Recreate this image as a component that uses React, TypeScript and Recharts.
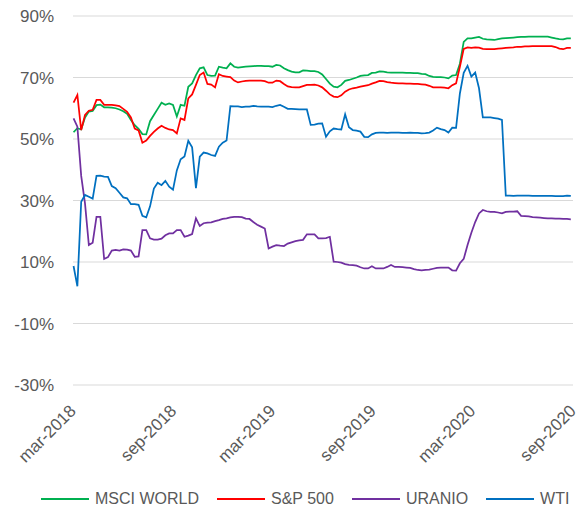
import { LineChart, Line, XAxis, YAxis, CartesianGrid, Legend } from 'recharts';

// weekly closes, returns in %
const weeks = [
  '2018-03-02', '2018-03-09', '2018-03-16', '2018-03-23', '2018-03-30',
  '2018-04-06', '2018-04-13', '2018-04-20', '2018-04-27',
  '2018-05-04', '2018-05-11', '2018-05-18', '2018-05-25',
  '2018-06-01', '2018-06-08', '2018-06-15', '2018-06-22', '2018-06-29',
  '2018-07-06', '2018-07-13', '2018-07-20', '2018-07-27',
  '2018-08-03', '2018-08-10', '2018-08-17', '2018-08-24', '2018-08-31',
  '2018-09-07', '2018-09-14', '2018-09-21', '2018-09-28',
  '2018-10-05', '2018-10-12', '2018-10-19', '2018-10-26',
  '2018-11-02', '2018-11-09', '2018-11-16', '2018-11-23', '2018-11-30',
  '2018-12-07', '2018-12-14', '2018-12-21', '2018-12-28',
  '2019-01-04', '2019-01-11', '2019-01-18', '2019-01-25',
  '2019-02-01', '2019-02-08', '2019-02-15', '2019-02-22',
  '2019-03-01', '2019-03-08', '2019-03-15', '2019-03-22', '2019-03-29',
  '2019-04-05', '2019-04-12', '2019-04-19', '2019-04-26',
  '2019-05-03', '2019-05-10', '2019-05-17', '2019-05-24', '2019-05-31',
  '2019-06-07', '2019-06-14', '2019-06-21', '2019-06-28',
  '2019-07-05', '2019-07-12', '2019-07-19', '2019-07-26',
  '2019-08-02', '2019-08-09', '2019-08-16', '2019-08-23', '2019-08-30',
  '2019-09-06', '2019-09-13', '2019-09-20', '2019-09-27',
  '2019-10-04', '2019-10-11', '2019-10-18', '2019-10-25',
  '2019-11-01', '2019-11-08', '2019-11-15', '2019-11-22', '2019-11-29',
  '2019-12-06', '2019-12-13', '2019-12-20', '2019-12-27',
  '2020-01-03', '2020-01-10', '2020-01-17', '2020-01-24', '2020-01-31',
  '2020-02-07', '2020-02-14', '2020-02-21', '2020-02-28',
  '2020-03-06', '2020-03-13', '2020-03-20', '2020-03-27',
  '2020-04-03', '2020-04-10', '2020-04-17', '2020-04-24',
  '2020-05-01', '2020-05-08', '2020-05-15', '2020-05-22', '2020-05-29',
  '2020-06-05', '2020-06-12', '2020-06-19', '2020-06-26',
  '2020-07-03', '2020-07-10', '2020-07-17', '2020-07-24', '2020-07-31',
  '2020-08-07', '2020-08-14', '2020-08-21', '2020-08-28',
];

const msciWorld = [
  52.2, 53.5, 53.1, 57.0, 58.9, 59.1, 61.0, 61.2, 60.3, 60.3,
  60.2, 60.0, 59.6, 59.0, 58.2, 56.2, 54.5, 53.3, 51.6, 51.5,
  55.8, 57.8, 59.8, 61.8, 61.1, 61.6, 61.1, 57.3, 61.1, 60.8,
  67.0, 68.1, 70.8, 73.0, 73.3, 70.8, 70.5, 70.6, 73.5, 73.2,
  73.0, 74.6, 73.5, 73.2, 73.4, 73.5, 73.6, 73.7, 73.8, 73.8,
  73.7, 73.7, 73.5, 74.1, 73.9, 73.0, 72.4, 71.9, 71.7, 71.7,
  72.3, 72.2, 72.1, 72.1, 71.8, 71.0, 69.5, 68.0, 67.0, 66.8,
  67.6, 68.9, 69.2, 69.6, 70.0, 70.5, 70.7, 70.8, 71.5, 71.6,
  72.0, 71.9, 71.7, 71.6, 71.6, 71.6, 71.6, 71.5, 71.5, 71.4,
  71.4, 71.2, 71.1, 70.5, 70.2, 70.1, 70.1, 70.0, 69.7, 70.6,
  70.8, 74.5, 81.6, 82.7, 82.7, 83.0, 83.2, 82.6, 82.4, 82.3,
  82.2, 82.5, 82.7, 82.8, 82.9, 83.0, 83.1, 83.2, 83.2, 83.3,
  83.3, 83.3, 83.3, 83.3, 83.3, 83.0, 82.7, 82.5, 82.4, 82.7,
  82.7,
];

const sp500 = [
  61.8, 64.3, 52.9, 57.8, 59.2, 59.5, 62.7, 62.7, 61.1, 61.1,
  61.1, 60.9, 60.7, 59.8, 58.8, 57.0, 53.4, 52.8, 48.8, 49.5,
  51.0, 52.3, 53.4, 54.3, 53.6, 53.1, 52.9, 51.8, 56.7, 56.2,
  63.2, 64.5, 67.6, 70.8, 71.6, 67.9, 67.7, 66.8, 71.1, 70.5,
  70.3, 70.1, 69.0, 68.4, 68.7, 68.9, 69.0, 69.0, 69.0, 69.0,
  68.8, 68.3, 68.3, 69.0, 68.8, 67.9, 67.1, 66.9, 66.8, 66.8,
  67.2, 67.6, 67.6, 67.7, 67.4, 66.8, 65.7, 64.5, 63.8, 63.6,
  64.2, 65.4, 66.1, 66.5, 66.7, 67.0, 67.3, 67.5, 68.0, 68.4,
  68.9, 68.8, 68.5, 68.3, 68.2, 68.1, 68.1, 68.0, 68.0, 67.9,
  67.9, 67.8, 67.7, 67.3, 66.8, 66.8, 66.8, 66.7, 66.5, 67.5,
  68.1, 73.5, 79.3, 79.8, 79.6, 79.8, 79.7, 79.3, 79.2, 79.2,
  79.2, 79.4, 79.5, 79.6, 79.7, 79.8, 80.0, 80.0, 80.1, 80.1,
  80.2, 80.2, 80.2, 80.2, 80.2, 80.2, 79.9, 79.4, 79.2, 79.6,
  79.6,
];

const uranio = [
  56.7, 54.0, 38.0, 29.0, 15.5, 16.3, 24.7, 24.7, 11.0, 11.6,
  13.7, 13.9, 13.7, 14.1, 14.0, 13.7, 11.7, 11.8, 20.4, 20.4,
  17.7, 17.3, 17.3, 17.6, 18.7, 19.3, 19.3, 20.4, 20.4, 18.2,
  18.6, 19.1, 24.2, 21.7, 22.6, 22.8, 22.9, 23.3, 23.6, 24.0,
  24.2, 24.5, 24.7, 24.7, 24.6, 24.1, 24.0, 23.0, 22.1, 21.5,
  20.9, 14.4, 15.0, 15.5, 15.3, 15.2, 16.0, 16.4, 16.8, 17.0,
  17.2, 19.0, 19.0, 19.0, 17.7, 17.7, 17.8, 18.2, 10.1, 10.0,
  9.8, 9.3, 9.1, 9.0, 8.8, 8.3, 7.9, 7.9, 8.6, 7.9,
  7.9, 7.9, 8.4, 9.0, 8.4, 8.4, 8.3, 8.2, 8.1, 7.7,
  7.4, 7.3, 7.4, 7.5, 7.8, 8.1, 8.2, 8.2, 8.2, 7.3,
  7.2, 9.6, 11.0, 15.5, 19.5, 23.0, 25.8, 26.9, 26.5, 26.3,
  26.3, 26.1, 25.8, 26.3, 26.4, 26.4, 26.5, 25.0, 24.9, 24.8,
  24.6, 24.5, 24.4, 24.3, 24.2, 24.2, 24.1, 24.1, 24.0, 24.0,
  23.9,
];

const wti = [
  8.7, 2.1, 29.6, 31.8, 31.2, 30.6, 38.0, 38.1, 37.8, 37.7,
  34.7, 34.0, 32.5, 31.0, 30.7, 28.8, 28.8, 28.6, 25.0, 24.5,
  28.1, 33.9, 35.8, 35.0, 36.4, 34.5, 33.5, 39.8, 43.4, 44.3,
  49.4, 47.3, 34.0, 44.3, 45.6, 45.3, 44.8, 44.5, 47.5, 48.8,
  49.5, 60.7, 60.6, 60.6, 60.4, 60.5, 60.5, 60.8, 60.6, 60.5,
  60.5, 60.5, 60.4, 60.8, 61.1, 60.5, 59.8, 59.8, 59.7, 59.6,
  59.6, 59.6, 54.6, 54.7, 55.0, 55.1, 50.7, 52.5, 53.4, 53.2,
  53.1, 58.0, 53.8, 52.9, 52.7, 52.4, 50.7, 50.6, 51.5, 52.0,
  52.1, 52.1, 52.0, 52.1, 52.1, 52.1, 52.0, 52.0, 52.1, 52.0,
  52.0, 51.8, 51.9, 52.1, 52.8, 53.7, 53.2, 52.9, 52.1, 53.7,
  53.6, 64.8, 71.5, 73.8, 70.3, 71.6, 66.5, 57.0, 57.0, 57.0,
  56.8, 56.6, 56.2, 31.6, 31.6, 31.5, 31.6, 31.6, 31.6, 31.6,
  31.5, 31.5, 31.5, 31.5, 31.5, 31.5, 31.4, 31.4, 31.4, 31.6,
  31.5,
];

const tickDates = ['2018-03-01', '2018-09-01', '2019-03-01', '2019-09-01', '2020-03-01', '2020-09-01'];
const tickLabels = ['mar-2018', 'sep-2018', 'mar-2019', 'sep-2019', 'mar-2020', 'sep-2020'];
const yTicks = [-30, -10, 10, 30, 50, 70, 90];

const series = [
  { key: 'msci', name: 'MSCI WORLD', color: '#00B050' },
  { key: 'sp500', name: 'S&P 500', color: '#FF0000' },
  { key: 'uranio', name: 'URANIO', color: '#7030A0' },
  { key: 'wti', name: 'WTI', color: '#0070C0' },
];

const data = weeks.map((d, i) => ({
  t: Date.parse(d),
  msci: msciWorld[i],
  sp500: sp500[i],
  uranio: uranio[i],
  wti: wti[i],
}));

const tickTimes = tickDates.map((d) => Date.parse(d));
const textColor = '#595959';

function DateTick({ x, y, payload }: any) {
  const idx = tickTimes.indexOf(payload.value);
  return (
    <g transform={`translate(${x + 4},${y + 27})`}>
      <text textAnchor="end" fill={textColor} fontSize={17} transform="rotate(-45)">
        {tickLabels[idx]}
      </text>
    </g>
  );
}

function LegendRow() {
  return (
    <div style={{ height: 30, display: 'flex', alignItems: 'center', paddingLeft: 41, gap: 18 }}>
      {series.map((s) => (
        <div key={s.key} style={{ display: 'flex', alignItems: 'center', gap: 6 }}>
          <div style={{ width: 48, height: 2, background: s.color }} />
          <span style={{ fontSize: 16, color: textColor, lineHeight: '30px' }}>{s.name}</span>
        </div>
      ))}
    </div>
  );
}

export default function App() {
  return (
    <div style={{ position: 'absolute', left: 0, top: 0, width: 580, height: 514, background: '#fff', fontFamily: '"Liberation Sans", Arial, sans-serif' }}>
      <LineChart width={580} height={514} data={data} margin={{ top: 16, right: 7, bottom: 0, left: 1 }}>
        <CartesianGrid vertical={false} stroke="#d9d9d9" strokeWidth={1} />
        <XAxis
          dataKey="t"
          type="number"
          scale="time"
          domain={[tickTimes[0], tickTimes[tickTimes.length - 1]]}
          ticks={tickTimes}
          interval={0}
          axisLine={false}
          tickLine={false}
          tickSize={0}
          tickMargin={0}
          height={99}
          tick={<DateTick />}
        />
        <YAxis
          domain={[-30, 90]}
          ticks={yTicks}
          interval={0}
          axisLine={false}
          tickLine={false}
          tickSize={0}
          tickMargin={19}
          width={72}
          tick={{ fill: textColor, fontSize: 17 }}
          tickFormatter={(v) => `${v}%`}
        />
        {series.map((s) => (
          <Line
            key={s.key}
            type="linear"
            dataKey={s.key}
            name={s.name}
            stroke={s.color}
            strokeWidth={1.75}
            dot={false}
            activeDot={false}
            isAnimationActive={false}
          />
        ))}
        <Legend
          verticalAlign="bottom"
          content={() => <LegendRow />}
          wrapperStyle={{ left: 0, width: 580, bottom: 0 }}
        />
      </LineChart>
    </div>
  );
}
